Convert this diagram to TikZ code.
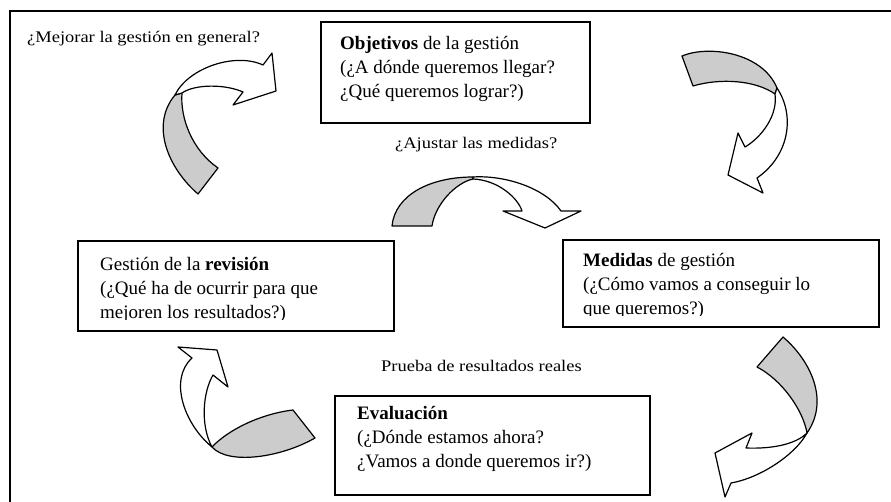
\documentclass[tikz,border=0pt]{standalone}
\usepackage{fontspec}
\setmainfont{Liberation Serif}
\newfontfamily\lblfont{Liberation Serif}[FakeStretch=1.14]
\definecolor{backgray}{RGB}{204,204,204}
\begin{document}
\begin{tikzpicture}[x=1pt,y=-1pt,
  box/.style={draw=black, line width=1.3pt, inner sep=0pt, fill=none},
  boxtext/.style={anchor=base west, inner sep=0pt, font=\fontsize{19}{24}\selectfont},
  lbl/.style={anchor=base west, inner sep=0pt, font=\lblfont\fontsize{16.2}{20}\selectfont},
  back/.style={draw=black, line width=1.2pt, fill=backgray, line join=round},
  front/.style={draw=black, line width=1.2pt, fill=white, line join=round}]
\useasboundingbox (0,0) rectangle (891,502);
% outer frame (runs off the page at right and bottom)
\draw[line width=1.7pt] (900,10.7) -- (10,10.7) -- (10,520);

% boxes
\node[box, minimum width=269pt, minimum height=101pt] (obj) at (455.5,72.5) {};
\node[box, minimum width=316pt, minimum height=90pt] (gest) at (236,286) {};
\node[box, minimum width=316pt, minimum height=87pt] (med) at (721,283.5) {};
\node[box, minimum width=315pt, minimum height=99pt] (eval) at (492.5,445.5) {};

% box texts
\node[boxtext] (objt) at (340,50) {\begin{tabular}[t]{@{}l@{}}\textbf{Objetivos} de la gestión\\(¿A dónde queremos llegar?\\¿Qué queremos lograr?)\end{tabular}};
\begin{scope}
\clip (78,241) rectangle (394,319.6);
\node[boxtext] (gestt) at (100,271) {\begin{tabular}[t]{@{}l@{}}Gestión de la \textbf{revisión}\\(¿Qué ha de ocurrir para que\\mejoren los resultados?)\end{tabular}};
\end{scope}
\begin{scope}
\clip (563,240) rectangle (879,315.6);
\node[boxtext] (medt) at (583,267) {\begin{tabular}[t]{@{}l@{}}\textbf{Medidas} de gestión\\(¿Cómo vamos a conseguir lo\\que queremos?)\end{tabular}};
\end{scope}
\node[boxtext] (evalt) at (357,419) {\begin{tabular}[t]{@{}l@{}}\textbf{Evaluación}\\(¿Dónde estamos ahora?\\¿Vamos a donde queremos ir?)\end{tabular}};

% labels
\node[lbl] (l1) at (27,42.5) {¿Mejorar la gestión en general?};
\node[lbl] (l2) at (395,149) {¿Ajustar las medidas?};
\node[lbl] (l3) at (381,371) {Prueba de resultados reales};

% arrow A (top left)
\draw[back] (198,194) .. controls (168,168) and (150,125) .. (175,95) -- (182,93) .. controls (180,118) and (192,150) .. (218,168) -- cycle;
\draw[front] (175,95) .. controls (188,68) and (235,52) .. (263,65) -- (272,53) -- (276,91) -- (233,105) -- (243,92) .. controls (225,84) and (195,84) .. (182,93) -- cycle;

% arrow B (top right)
\draw[back] (682,56) .. controls (708,45) and (762,52) .. (777,88) -- (775,94) .. controls (755,80) and (720,78) .. (693,86) -- cycle;
\draw[front] (777,88) .. controls (795,115) and (790,155) .. (757,178) -- (763,193) -- (728,175) -- (738,133) -- (745,147) .. controls (762,137) and (778,115) .. (775,94) -- cycle;

% arrow C (middle)
\draw[back] (392,226) .. controls (395,195) and (430,177) .. (473,177) -- (473,179) .. controls (455,183) and (435,205) .. (432,226) -- cycle;
\draw[front] (473,177) .. controls (505,175) and (545,188) .. (561,211) -- (581,211) -- (545,228) -- (503,211) -- (522,211) .. controls (518,198) and (498,180) .. (473,179) -- cycle;

% arrow D (bottom left)
\draw[back] (293,410) .. controls (260,414) and (228,430) .. (212,447) .. controls (228,465) and (280,458) .. (315,438) -- cycle;
\draw[front] (212,447) .. controls (185,425) and (168,380) .. (192,358) -- (178,347) -- (217,350) -- (228,387) -- (213,375) .. controls (203,392) and (200,425) .. (212,447) -- cycle;

% arrow E (bottom right)
\draw[back] (757,367) -- (783,337) .. controls (810,360) and (830,400) .. (807,433) .. controls (803,410) and (782,380) .. (757,367) -- cycle;
\draw[front] (807,433) .. controls (795,455) and (760,478) .. (731,483) -- (725,497) -- (715,453) -- (752,433) -- (746,448) .. controls (770,449) and (795,445) .. (807,433) -- cycle;
\end{tikzpicture}
\end{document}
